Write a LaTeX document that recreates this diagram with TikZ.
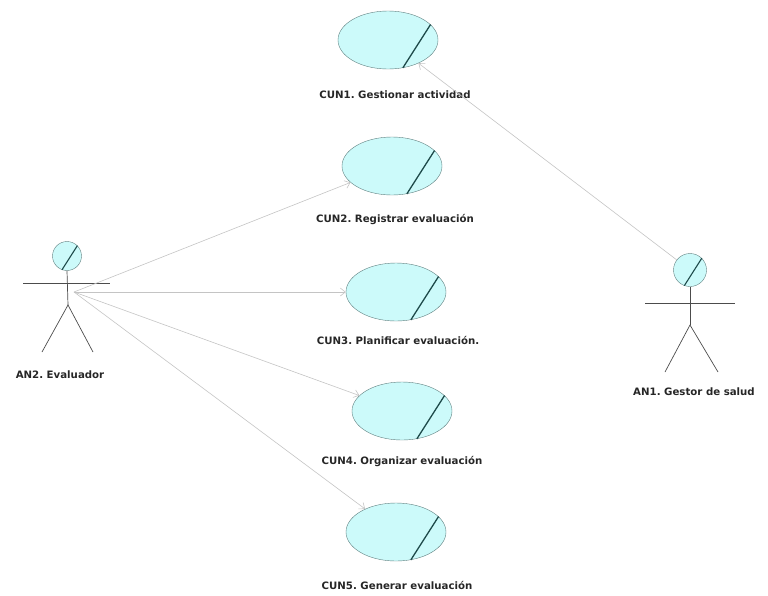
\documentclass[tikz,border=0pt]{standalone}
\usepackage{fontspec}
\setmainfont{DejaVu Sans}
\usepackage{tikz}
\usetikzlibrary{shapes,arrows,positioning,calc,arrows.meta}

\definecolor{ucfill}{HTML}{CCFAFA}
\definecolor{ucedge}{HTML}{5F7F7F}
\definecolor{ucslash}{HTML}{1E4A4A}
\definecolor{assoc}{HTML}{C4C4C4}

\begin{document}
\frenchspacing
\begin{tikzpicture}[
        x=1pt, y=-1pt,
        every node/.style={font=\bfseries\fontsize{10.2}{12}\selectfont},
        usecase/.style={ellipse, draw=ucedge, fill=ucfill, minimum width=100pt, minimum height=58pt, inner sep=0pt},
        actorhead/.style={circle, draw=ucedge, fill=ucfill, minimum size=29pt, inner sep=0pt},
        limb/.style={draw=black!70, line width=0.7pt},
        slash/.style={draw=ucslash, line width=1.3pt},
        caption/.style={inner sep=1pt, text=black!85},
        assocarrow/.style={draw=assoc, line width=0.6pt, -{Straight Barb[length=5pt, width=8pt]}}
        ]
        \useasboundingbox (0,0) rectangle (768,595);

        % Business use cases
        \node[usecase] (cun1) at (388, 40) {};
        \node[usecase] (cun2) at (392, 166) {};
        \node[usecase] (cun3) at (396, 292) {};
        \node[usecase] (cun4) at (402, 411) {};
        \node[usecase] (cun5) at (396, 532) {};
        \foreach \uc in {cun1,cun2,cun3,cun4,cun5}
            \draw[slash] (\uc.20) -- (\uc.-62);

        \node[caption] (cun1lbl) at (395, 95) {CUN1. Gestionar actividad};
        \node[caption] (cun2lbl) at (395, 220) {CUN2. Registrar evaluación};
        \node[caption] (cun3lbl) at (398, 340) {CUN3. Planificar evaluación.};
        \node[caption] (cun4lbl) at (402, 462) {CUN4. Organizar evaluación};
        \node[caption] (cun5lbl) at (397, 585) {CUN5. Generar evaluación};

        % Actor AN2 (left)
        \node[actorhead] (an2head) at (67, 256) {};
        \draw[slash, line width=1.1pt] (an2head.45) -- (an2head.-110);
        \draw[limb] (23, 283) -- (110, 283);
        \draw[limb] (an2head.south) -- (68, 305) coordinate (an2hip);
        \draw[limb] (42, 352) -- (an2hip) -- (93, 352);
        \coordinate (an2hub) at (74, 292);
        \node[caption] (an2lbl) at (60, 375) {AN2. Evaluador};

        % Actor AN1 (right)
        \node[actorhead, minimum size=33pt] (an1head) at (690, 270) {};
        \draw[slash, line width=1.1pt] (an1head.45) -- (an1head.-110);
        \draw[limb] (645, 303) -- (735, 303);
        \draw[limb] (an1head.south) -- (690, 325) coordinate (an1hip);
        \draw[limb] (665, 372) -- (an1hip) -- (718, 372);
        \node[caption] (an1lbl) at (694, 392) {AN1. Gestor de salud};

        % Associations
        \draw[assocarrow] (an2hub) -- (cun2);
        \draw[assocarrow] (an2hub) -- (cun3);
        \draw[assocarrow] (an2hub) -- (cun4);
        \draw[assocarrow] (an2hub) -- (cun5);
        \draw[assocarrow] (an1head) -- (cun1);

    \end{tikzpicture}
\end{document}
